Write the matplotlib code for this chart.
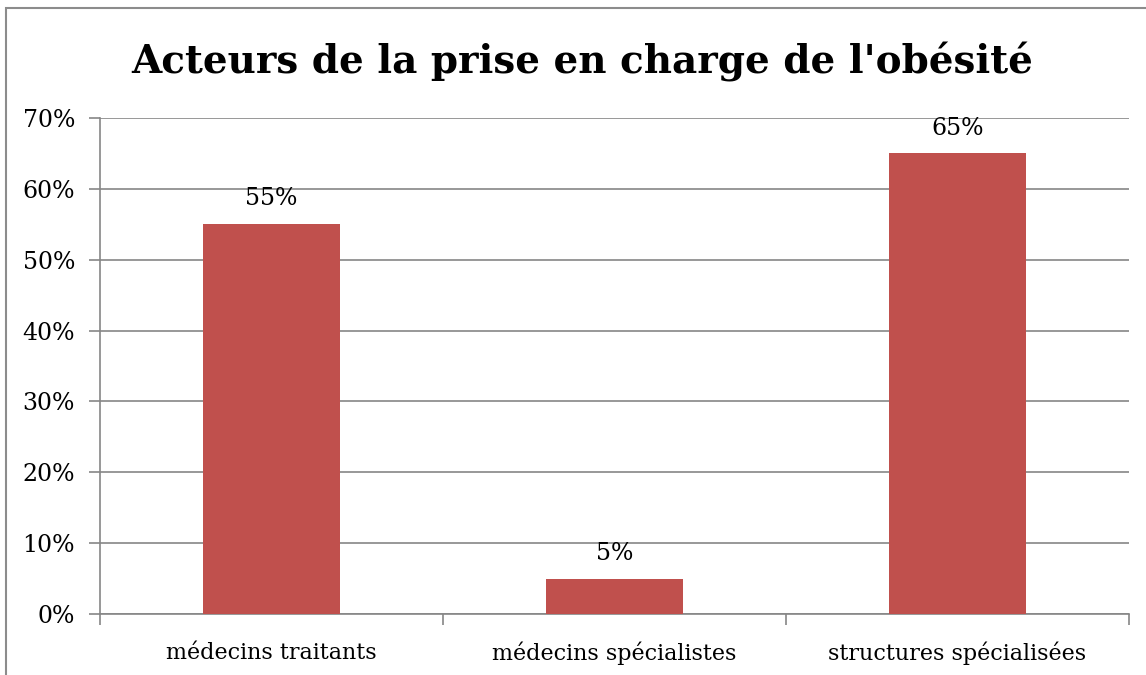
import matplotlib
matplotlib.use("Agg")
import matplotlib.pyplot as plt
from matplotlib.patches import Rectangle
from matplotlib.ticker import FuncFormatter, MultipleLocator

categories = ["médecins traitants", "médecins spécialistes", "structures spécialisées"]
values = [55, 5, 65]
title = "Acteurs de la prise en charge de l'obésité"

bar_color = "#C0504D"
grid_color = "#868686"
font = "DejaVu Serif"

fig = plt.figure(figsize=(11.46, 6.75), dpi=100)
fig.patches.append(Rectangle((6 / 1146, -0.1), 1.2, (675 - 8) / 675 + 0.1,
                             transform=fig.transFigure, fill=False,
                             edgecolor="#8c8c8c", linewidth=1.5, zorder=0))

ax = fig.add_axes([100 / 1146, 61 / 675, 1029 / 1146, 496 / 675])
x = list(range(len(categories)))
ax.bar(x, values, width=0.4, color=bar_color, zorder=3)
ax.set_xlim(-0.5, len(categories) - 0.5)
ax.set_ylim(0, 70)
ax.yaxis.set_major_locator(MultipleLocator(10))
ax.yaxis.set_major_formatter(FuncFormatter(lambda v, p: f"{v:.0f}%"))
ax.grid(axis="y", color=grid_color, linewidth=1.2, zorder=0)
ax.set_axisbelow(True)

for s in ["top", "right"]:
    ax.spines[s].set_visible(False)
for s in ["left", "bottom"]:
    ax.spines[s].set_color(grid_color)
    ax.spines[s].set_linewidth(1.2)

ax.set_xticks(x)
ax.set_xticklabels(categories, fontfamily=font, fontsize=16)
ax.tick_params(axis="x", length=0, pad=20)
ax.set_xticks([-0.5, 0.5, 1.5, 2.5], minor=True)
ax.tick_params(axis="x", which="minor", length=8, width=1.2, color=grid_color)
ax.tick_params(axis="y", length=8, width=1.2, color=grid_color, pad=10,
               labelsize=17)
for lbl in ax.get_yticklabels():
    lbl.set_fontfamily(font)

for xi, v in zip(x, values):
    ax.annotate(f"{v}%", (xi, v), xytext=(0, 10), textcoords="offset points",
                ha="center", va="bottom", fontfamily=font, fontsize=17)

fig.text(582 / 1146, 1 - 62 / 675, title, ha="center", va="center",
         fontfamily=font, fontweight="bold", fontsize=28)

fig.savefig("out.png", dpi=100)
